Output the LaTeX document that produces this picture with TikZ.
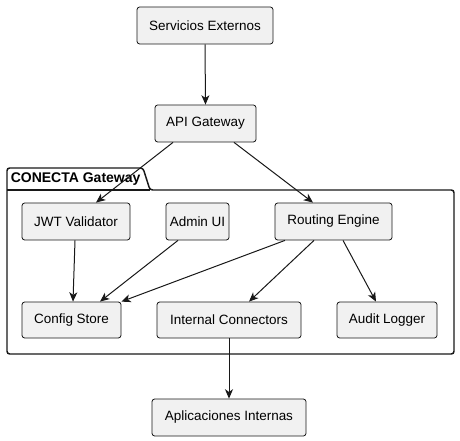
\documentclass[tikz,border=0pt]{standalone}
\usepackage{fontspec}
\setmainfont{Liberation Sans}
\usetikzlibrary{arrows.meta,calc}
\definecolor{boxfill}{HTML}{F1F1F1}
\definecolor{boxline}{HTML}{181818}
\tikzset{
  comp/.style={draw=boxline, fill=boxfill, line width=0.6pt, rounded corners=2pt,
    inner sep=0pt, font=\fontsize{10.1}{12}\selectfont, text=black},
  conn/.style={draw=boxline, line width=0.75pt, -{Stealth[length=7pt,width=6pt,inset=2pt]}},
  pkg/.style={draw=boxline, line width=1.1pt, rounded corners=2pt},
}
\begin{document}
\begin{tikzpicture}[x=0.75pt,y=-0.75pt]
\useasboundingbox (0,0) rectangle (460,441);
% package
\draw[pkg] (7,190) -- (7,168) -- (143,168) -- (150,190) -- (454,190) -- (454,354) -- (7,354) -- cycle;
\draw[boxline, line width=1.1pt] (7,190) -- (150,190);
\node[anchor=west, font=\bfseries\fontsize{10.5}{12}\selectfont, inner sep=0pt] (pkgtitle) at (10.5,179.5) {CONECTA Gateway};
% components
\node[comp, minimum width=136*0.75pt, minimum height=37*0.75pt] (ext) at (205,25.5) {Servicios Externos};
\node[comp, minimum width=101*0.75pt, minimum height=37*0.75pt] (api) at (205.5,123.5) {API Gateway};
\node[comp, minimum width=108*0.75pt, minimum height=37*0.75pt] (jwt) at (76,221.5) {JWT Validator};
\node[comp, minimum width=63*0.75pt, minimum height=37*0.75pt] (admin) at (197.5,221.5) {Admin UI};
\node[comp, minimum width=117*0.75pt, minimum height=37*0.75pt] (route) at (333.5,221.5) {Routing Engine};
\node[comp, minimum width=99*0.75pt, minimum height=36*0.75pt] (cfg) at (71.5,320) {Config Store};
\node[comp, minimum width=144*0.75pt, minimum height=36*0.75pt] (intc) at (229,320) {Internal Connectors};
\node[comp, minimum width=100*0.75pt, minimum height=36*0.75pt] (audit) at (387,320) {Audit Logger};
\node[comp, minimum width=154*0.75pt, minimum height=37*0.75pt] (apps) at (229,417.5) {Aplicaciones Internas};
% connectors
\draw[conn] (ext.south) -- (api.north);
\draw[conn] ($(api.south)+(-32.5,0)$) -- ($(jwt.north)+(20,0)$);
\draw[conn] ($(api.south)+(28.5,0)$) -- ($(route.north)+(-20.5,0)$);
\draw[conn] ($(jwt.south)+(-1,0)$) -- ($(cfg.north)+(1.5,0)$);
\draw[conn] ($(admin.south)+(-19.5,0)$) -- ($(cfg.north)+(28.5,0)$);
\draw[conn] ($(route.south)+(-48.5,0)$) -- (cfg.north east);
\draw[conn] ($(route.south)+(-19.5,0)$) -- ($(intc.north)+(20,0)$);
\draw[conn] ($(route.south)+(9.5,0)$) -- ($(audit.north)+(-11,0)$);
\draw[conn] (intc.south) -- (apps.north);
\end{tikzpicture}
\end{document}
